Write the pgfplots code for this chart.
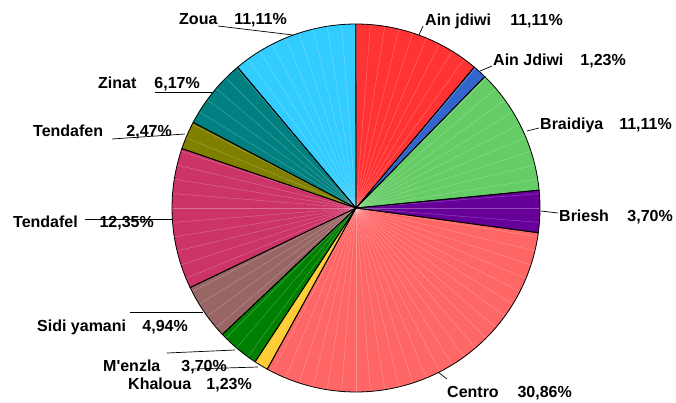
\documentclass[border=0pt]{standalone}
\usepackage{pgfplots}
\usepackage{pgfplotstable}
\usepackage{fontspec}
\setmainfont{Liberation Sans}
\pgfplotsset{compat=1.18}

\definecolor{cAinj}{HTML}{FF3333}
\definecolor{cAinJ}{HTML}{3366CC}
\definecolor{cBrai}{HTML}{66CC66}
\definecolor{cBrie}{HTML}{660099}
\definecolor{cCent}{HTML}{FF6666}
\definecolor{cKhal}{HTML}{FFCC33}
\definecolor{cMenz}{HTML}{008000}
\definecolor{cSidi}{HTML}{996666}
\definecolor{cTdfl}{HTML}{CC3366}
\definecolor{cTdfn}{HTML}{808000}
\definecolor{cZina}{HTML}{008080}
\definecolor{cZoua}{HTML}{33CCFF}

% share of each locality, clockwise from 12 o'clock
\pgfplotstableread[col sep=comma]{
name,value,col
Ain jdiwi,11.11,cAinj
Ain Jdiwi,1.23,cAinJ
Braidiya,11.11,cBrai
Briesh,3.70,cBrie
Centro,30.86,cCent
Khaloua,1.23,cKhal
M'enzla,3.70,cMenz
Sidi yamani,4.94,cSidi
Tendafel,12.35,cTdfl
Tendafen,2.47,cTdfn
Zinat,6.17,cZina
Zoua,11.11,cZoua
}\piedata

% pie centre and radius (pixel units, y downwards)
\def\cx{356}
\def\cy{208}
\def\rr{184}

% cumulative start / end angles
\gdef\cum{0}
\pgfplotsforeachungrouped \i in {0,...,11}{%
  \pgfplotstablegetelem{\i}{value}\of\piedata
  \pgfmathsetmacro\va{\cum*3.6}%
  \pgfmathsetmacro\newcum{\cum+\pgfplotsretval}%
  \pgfmathsetmacro\vb{\newcum*3.6}%
  \pgfmathtruncatemacro\ns{max(3,ceil((\vb-\va)/2)+1)}%
  \expandafter\xdef\csname sa\i\endcsname{\va}%
  \expandafter\xdef\csname sb\i\endcsname{\vb}%
  \expandafter\xdef\csname sn\i\endcsname{\ns}%
  \pgfplotstablegetelem{\i}{col}\of\piedata
  \expandafter\xdef\csname sc\i\endcsname{\pgfplotsretval}%
  \xdef\cum{\newcum}%
}

\begin{document}
\begin{tikzpicture}
\begin{axis}[
    scale only axis,
    width=676bp, height=403bp,
    xmin=0, xmax=676, ymin=0, ymax=403,
    y dir=reverse,
    hide axis,
    clip=false,
]
\path (axis cs:0,0) rectangle (axis cs:676,403);

% slice fills
\pgfplotsinvokeforeach{0,...,11}{
  \edef\doslice{\noexpand\addplot[draw=none, fill=\csname sc#1\endcsname,
      domain=\csname sa#1\endcsname:\csname sb#1\endcsname,
      samples=\csname sn#1\endcsname]
    ({\cx+\rr*sin(x)}, {\cy-\rr*cos(x)}) -- (axis cs:\cx,\cy) -- cycle;}
  \doslice
}

% faint rendering rays
\pgfplotsinvokeforeach{0,4.5,...,355.5}{
  \draw[white, opacity=0.3, line width=0.4bp]
    (axis cs:\cx,\cy) -- (axis cs:{\cx+\rr*sin(#1)},{\cy-\rr*cos(#1)});
}

% slice outlines
\pgfplotsinvokeforeach{0,...,11}{
  \edef\doslice{\noexpand\addplot[draw=black, line width=0.8bp, fill=none,
      domain=\csname sa#1\endcsname:\csname sb#1\endcsname,
      samples=\csname sn#1\endcsname]
    ({\cx+\rr*sin(x)}, {\cy-\rr*cos(x)}) -- (axis cs:\cx,\cy) -- cycle;}
  \doslice
}

% labels
\tikzset{lbn/.style={anchor=base west, inner sep=0pt, font=\fontsize{16bp}{18bp}\selectfont\bfseries},
         lbp/.style={anchor=base east, inner sep=0pt, font=\fontsize{16bp}{18bp}\selectfont\bfseries}}
\node[lbn] at (axis cs:179,25) {Zoua};        \node[lbp] at (axis cs:287,25) {11,11\%};
\node[lbn] at (axis cs:425,26) {Ain jdiwi};   \node[lbp] at (axis cs:563,26) {11,11\%};
\node[lbn] at (axis cs:493,65) {Ain Jdiwi};   \node[lbp] at (axis cs:626,65) {1,23\%};
\node[lbn] at (axis cs:540,129) {Braidiya};   \node[lbp] at (axis cs:672,129) {11,11\%};
\node[lbn] at (axis cs:559,221) {Briesh};     \node[lbp] at (axis cs:673,221) {3,70\%};
\node[lbn] at (axis cs:447,397) {Centro};     \node[lbp] at (axis cs:572,397) {30,86\%};
\node[lbn] at (axis cs:128,389) {Khaloua};    \node[lbp] at (axis cs:252,389) {1,23\%};
\node[lbn] at (axis cs:103,371) {M\textquotesingle enzla}; \node[lbp] at (axis cs:227,371) {3,70\%};
\node[lbn] at (axis cs:37,331) {Sidi yamani}; \node[lbp] at (axis cs:188,331) {4,94\%};
\node[lbn] at (axis cs:13,227) {Tendafel};    \node[lbp] at (axis cs:154,227) {12,35\%};
\node[lbn] at (axis cs:33,136) {Tendafen};    \node[lbp] at (axis cs:172,136) {2,47\%};
\node[lbn] at (axis cs:98,88) {Zinat};        \node[lbp] at (axis cs:200,88) {6,17\%};

% leader lines
\begin{scope}[line width=0.7bp]
\draw (axis cs:218,26) -- (axis cs:293,35);
\draw (axis cs:423,26) -- (axis cs:419,35);
\draw (axis cs:492,66) -- (axis cs:480,71);
\draw (axis cs:539,128) -- (axis cs:527,131);
\draw (axis cs:541,211) -- (axis cs:558,213);
\draw (axis cs:447,379) -- (axis cs:438,372);
\draw (axis cs:193,369) -- (axis cs:258,367);
\draw (axis cs:167,353) -- (axis cs:235,350);
\draw (axis cs:130,312) -- (axis cs:203,312);
\draw (axis cs:85,219) -- (axis cs:172,219);
\draw (axis cs:112,139) -- (axis cs:185,134);
\draw (axis cs:155,92) -- (axis cs:212,92);
\end{scope}
\end{axis}
\end{tikzpicture}
\end{document}
